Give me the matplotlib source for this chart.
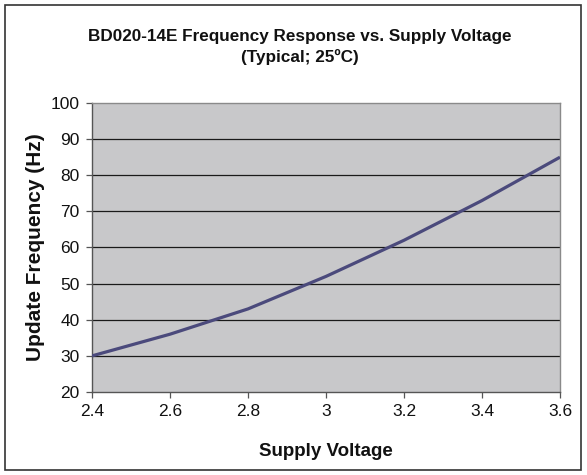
import matplotlib
matplotlib.use("Agg")
import matplotlib.pyplot as plt
from matplotlib.patches import Rectangle

plt.rcParams['font.family'] = ['Liberation Sans', 'DejaVu Sans']

voltage = [2.4, 2.6, 2.8, 3.0, 3.2, 3.4, 3.6]
frequency = [30, 36, 43, 52, 62, 73, 85]
x_ticks = [2.4, 2.6, 2.8, 3.0, 3.2, 3.4, 3.6]
x_tick_labels = ["2.4", "2.6", "2.8", "3", "3.2", "3.4", "3.6"]
y_ticks = [20, 30, 40, 50, 60, 70, 80, 90, 100]

W, H = 587, 475
fig = plt.figure(figsize=(W / 100, H / 100), dpi=100)
fig.patch.set_facecolor('white')

# outer border
fig.patches.append(Rectangle((5 / W, 5 / H), (581 - 5) / W, (470 - 5) / H,
                             transform=fig.transFigure, fill=False,
                             edgecolor='#333333', linewidth=1.2))

left, right, top, bottom = 92, 560, 103, 392
ax = fig.add_axes([left / W, 1 - bottom / H, (right - left) / W, (bottom - top) / H])
ax.set_facecolor('#C8C8CA')
ax.plot(voltage, frequency, color='#4B4A7C', linewidth=2.3, solid_capstyle='butt', zorder=3)

ax.set_xlim(2.4, 3.6)
ax.set_ylim(20, 100)
ax.set_xticks(x_ticks)
ax.set_xticklabels(x_tick_labels)
ax.set_yticks(y_ticks)
for yv in y_ticks[1:-1]:
    ax.axhline(yv, color='#1a1a1a', linewidth=0.9, zorder=2)

for s in ['left', 'bottom']:
    ax.spines[s].set_color('#555555')
    ax.spines[s].set_linewidth(1.0)
for s in ['top', 'right']:
    ax.spines[s].set_color('#8a8a8a')
    ax.spines[s].set_linewidth(1.0)

ax.tick_params(axis='both', direction='out', length=4, width=0.9, color='#555555',
               labelsize=12.5, labelcolor='#111111')
ax.tick_params(axis='x', pad=5)
ax.tick_params(axis='y', pad=5)

ax.set_xlabel('Supply Voltage', fontsize=13.5, fontweight='bold', labelpad=17, color='#111111')
ax.set_ylabel('Update Frequency (Hz)', fontsize=15, fontweight='bold', labelpad=4, color='#111111')

cx = 300 / W
fig.text(cx, 1 - 37 / H,
         'BD020-14E Frequency Response vs. Supply Voltage',
         ha='center', va='center', fontsize=12.3, fontweight='bold', color='#111111')
fig.text(cx, 1 - 57 / H, '(Typical; 25ºC)',
         ha='center', va='center', fontsize=12.3, fontweight='bold', color='#111111')

fig.savefig('out.png', dpi=100)
